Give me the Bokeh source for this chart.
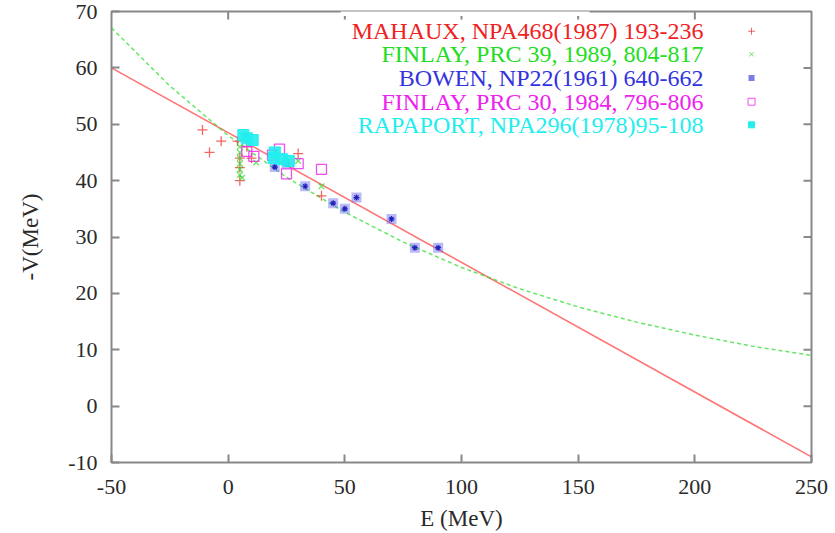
from bokeh.plotting import figure
from bokeh.models import Range1d, BoxAnnotation
from bokeh.core.properties import value
from bokeh.embed import file_html
from bokeh.resources import INLINE

# ---- data ----
x_ticks = [-50, 0, 50, 100, 150, 200, 250]
y_ticks = [-10, 0, 10, 20, 30, 40, 50, 60, 70]

# straight-line fit (solid red)
line_E = [-50, 250]
line_V = [60.0, -9.0]

# curved fit (dashed green)
curve_E = [-50, -25, 0, 25, 50, 75, 100, 125, 150, 175, 200, 225, 250]
curve_V = [67.1, 56.8, 48.0, 40.6, 34.4, 29.1, 24.6, 20.8, 17.6, 14.9, 12.6, 10.6, 9.0]

mahaux_E = [-11, -8, -3, 4, 5, 5, 5, 8, 10, 30, 40]
mahaux_V = [49.0, 45.0, 47.0, 47.0, 44.0, 42.3, 40.0, 46.0, 44.0, 44.8, 37.3]

finlay89_E = [5, 5, 5, 5, 5, 5, 6, 12, 20, 25, 30, 40]
finlay89_V = [46.0, 45.0, 44.0, 43.0, 42.0, 41.0, 40.5, 43.2, 45.0, 44.0, 43.5, 39.0]

bowen_E = [20, 25, 33, 45, 50, 55, 70, 80, 90]
bowen_V = [42.4, 43.0, 39.0, 36.0, 35.0, 37.0, 33.2, 28.1, 28.1]

finlay84_E = [8, 11, 19, 22, 25, 30, 40]
finlay84_V = [45.2, 44.3, 44.5, 45.6, 41.2, 43.0, 42.0]

rapaport_E = [6.5, 8, 10.5, 19.5, 20, 23, 26]
rapaport_V = [48.1, 47.5, 47.2, 44.0, 45.0, 43.8, 43.5]

legend_labels = [
    "MAHAUX, NPA468(1987) 193-236",
    "FINLAY, PRC 39, 1989, 804-817",
    "BOWEN, NP22(1961) 640-662",
    "FINLAY, PRC 30, 1984, 796-806",
    "RAPAPORT, NPA296(1978)95-108",
]
RED, GREEN, BLUE, MAG, CYAN = "#ee2222", "#22dd22", "#3333dd", "#ee22ee", "#22eeee"
legend_colors = [RED, GREEN, BLUE, MAG, CYAN]

SERIF = "'Liberation Serif', 'Times New Roman', Times, serif"

X0, X1, Y0, Y1 = -50, 250, -10, 70
p = figure(width=835, height=533, x_range=Range1d(X0, X1), y_range=Range1d(Y0, Y1),
           output_backend="svg", toolbar_location=None,
           min_border_left=111, min_border_right=24, min_border_top=11, min_border_bottom=71)
p.grid.visible = False
p.outline_line_color = "#888888"
p.outline_line_width = 2
p.background_fill_color = "white"
p.border_fill_color = "white"

for ax in (p.xaxis[0], p.yaxis[0]):
    ax.axis_line_color = None
    ax.major_tick_in = 8
    ax.major_tick_out = 0
    ax.major_tick_line_color = "#888888"
    ax.major_tick_line_width = 2
    ax.minor_tick_line_color = None
    ax.major_label_text_font = SERIF
    ax.major_label_text_font_size = "22px"
    ax.major_label_text_color = "#2a2a2a"
    ax.axis_label_text_font = SERIF
    ax.axis_label_text_font_size = "23px"
    ax.axis_label_text_font_style = "normal"
    ax.axis_label_text_color = "#2a2a2a"

p.xaxis.ticker = x_ticks
p.yaxis.ticker = y_ticks
p.xaxis.major_label_overrides = {t: str(t) for t in x_ticks}
p.yaxis.major_label_overrides = {t: str(t) for t in y_ticks}
p.xaxis.axis_label = "E (MeV)"
p.yaxis.axis_label = "-V(MeV)"
p.xaxis.major_label_standoff = 17
p.xaxis.axis_label_standoff = 9
p.yaxis.major_label_standoff = 14
p.yaxis.axis_label_standoff = 22

# mirrored inward ticks on the top and right borders (8 px long)
px_per_x = 700 / (X1 - X0)
px_per_y = 451 / (Y1 - Y0)
tx = x_ticks[1:-1]
ty = y_ticks[1:-1]
p.segment(x0=tx, y0=[Y1] * len(tx), x1=tx, y1=[Y1 - 8 / px_per_y] * len(tx),
          line_color="#888888", line_width=2)
p.segment(x0=[X1] * len(ty), y0=ty, x1=[X1 - 8 / px_per_x] * len(ty), y1=ty,
          line_color="#888888", line_width=2)

# fits
p.line(line_E, line_V, line_color="#ff0000", line_alpha=0.55, line_width=1.6)
p.line(curve_E, curve_V, line_color="#22dd22", line_alpha=0.7, line_width=1.5, line_dash="4 3")

# data
p.scatter(mahaux_E, mahaux_V, marker="cross", size=10, line_color=RED, line_alpha=0.7, line_width=1.3)
p.scatter(finlay89_E, finlay89_V, marker="x", size=8, line_color=GREEN, line_alpha=0.7, line_width=1.3)
p.scatter(bowen_E, bowen_V, marker="square", size=10, fill_color="#6666ee", fill_alpha=0.45, line_color=None)
p.scatter(bowen_E, bowen_V, marker="asterisk", size=6, line_color="#2222bb", line_width=1.2)
p.scatter(finlay84_E, finlay84_V, marker="square", size=10, fill_color=None, line_color=MAG, line_alpha=0.8, line_width=1.3)
p.scatter(rapaport_E, rapaport_V, marker="square", size=11, fill_color=CYAN, line_color=CYAN, fill_alpha=0.9)

# gnuplot-style key: right-aligned text, symbol to the right
row_V = [66.5, 62.4, 58.2, 54.0, 49.9]
text_E = [203.7] * 5
p.text(text_E, row_V, text=legend_labels, text_color=legend_colors, text_align="right",
       text_baseline="middle", text_font=value(SERIF), text_font_size="24px")
sym_E = 224.3
p.scatter([sym_E], [row_V[0]], marker="cross", size=7, line_color=RED, line_alpha=0.7)
p.scatter([sym_E], [row_V[1]], marker="x", size=6, line_color=GREEN, line_alpha=0.7)
p.scatter([sym_E], [row_V[2]], marker="square", size=6, fill_color="#4444dd", fill_alpha=0.7, line_color=None)
p.scatter([sym_E], [row_V[3]], marker="square", size=7, fill_color=None, line_color=MAG, line_alpha=0.8)
p.scatter([sym_E], [row_V[4]], marker="square", size=6, fill_color=CYAN, line_color=CYAN)

# white box of the key covering part of the top border
p.add_layout(BoxAnnotation(left=48.2, right=154.9, bottom=69.2, top=75, fill_color="white",
                           fill_alpha=1.0, line_color=None, level="overlay"))

open("out.html", "w").write(file_html(p, INLINE))
